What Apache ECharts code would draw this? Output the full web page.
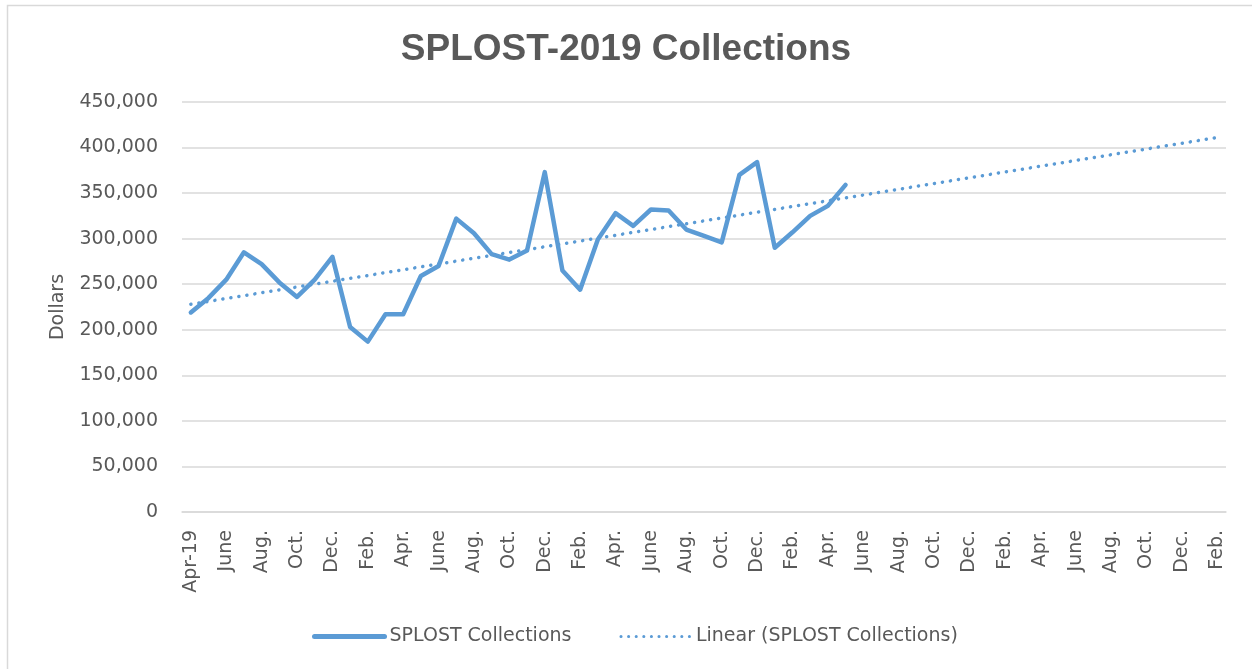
<!DOCTYPE html>
<html>
<head>
<meta charset="utf-8">
<script src="https://cdn.jsdelivr.net/npm/echarts@6/dist/echarts.min.js"></script>
<style>
html,body{margin:0;padding:0;background:#fff;}
#chart{width:1252px;height:669px;}
</style>
</head>
<body>
<div id="chart"></div>
<script>
// Monthly categories Apr-2019 .. Feb-2024
const categories = [
  "Apr-19","May","June","July","Aug.","Sept.","Oct.","Nov.","Dec.","Jan.","Feb.","Mar.",
  "Apr.","May","June","July","Aug.","Sept.","Oct.","Nov.","Dec.","Jan.","Feb.","Mar.",
  "Apr.","May","June","July","Aug.","Sept.","Oct.","Nov.","Dec.","Jan.","Feb.","Mar.",
  "Apr.","May","June","July","Aug.","Sept.","Oct.","Nov.","Dec.","Jan.","Feb.","Mar.",
  "Apr.","May","June","July","Aug.","Sept.","Oct.","Nov.","Dec.","Jan.","Feb."
];
// SPLOST Collections (Apr-2019 .. May-2022), dollars
const collections = [
  219000, 235000, 255000, 285000, 272000, 252000, 236000, 255000, 280000, 203000,
  187000, 217000, 217000, 259000, 270000, 322000, 306000, 283000, 277000, 287000,
  373000, 265000, 244000, 299000, 328000, 314000, 332000, 331000, 310000, 303000,
  296000, 370000, 384000, 290000, 307000, 325000, 336000, 359000
];
// Linear trendline end values (first and last category)
const trendStart = 228000;
const trendEnd = 411000;
const yTicks = { min: 0, max: 450000, interval: 50000 };

const trendData = categories.map(() => null);
trendData[0] = trendStart;
trendData[categories.length - 1] = trendEnd;

const textColor = '#595959';
const blue = '#5B9BD5';
const font = 'DejaVu Sans';

const chart = echarts.init(document.getElementById('chart'), null, {renderer: 'canvas'});
chart.setOption({
  backgroundColor: '#ffffff',
  animation: false,
  graphic: [{
    type: 'rect', silent: true, z: -1,
    shape: {x: 7.5, y: 5.5, width: 1300, height: 700},
    style: {fill: 'none', stroke: '#d9d9d9', lineWidth: 1.5}
  }],
  title: {
    text: 'SPLOST-2019 Collections',
    left: 'center',
    top: 26,
    textStyle: {fontFamily: 'Liberation Sans', fontWeight: 'bold', fontSize: 37, color: textColor}
  },
  legend: {
    left: 307,
    top: 622,
    itemWidth: 70,
    itemHeight: 10,
    itemGap: 48,
    textStyle: {fontFamily: font, fontSize: 19, color: textColor},
    data: [
      {name: 'SPLOST Collections',
       itemStyle: {opacity: 0},
       lineStyle: {width: 5, color: blue, cap: 'round'}},
      {name: 'Linear (SPLOST Collections)',
       itemStyle: {opacity: 0},
       lineStyle: {width: 3, color: blue, type: [0.1, 7.5], cap: 'round'}}
    ]
  },
  grid: {left: 182, right: 26, top: 102, bottom: 157, containLabel: false},
  xAxis: {
    type: 'category',
    data: categories,
    boundaryGap: true,
    axisLine: {show: true, lineStyle: {color: '#d9d9d9', width: 1.5}},
    axisTick: {show: false},
    axisLabel: {
      interval: 1,
      rotate: 90,
      margin: 18,
      fontFamily: font,
      fontSize: 19,
      color: textColor
    },
    splitLine: {show: false}
  },
  yAxis: {
    type: 'value',
    min: yTicks.min,
    max: yTicks.max,
    interval: yTicks.interval,
    name: 'Dollars',
    nameLocation: 'middle',
    nameGap: 114,
    nameTextStyle: {fontFamily: font, fontSize: 19, color: textColor},
    axisLine: {show: false},
    axisTick: {show: false},
    axisLabel: {
      margin: 24,
      fontFamily: font,
      fontSize: 19,
      color: textColor,
      formatter: v => v.toLocaleString('en-US')
    },
    splitLine: {lineStyle: {color: '#d9d9d9', width: 1.5}}
  },
  series: [
    {
      name: 'SPLOST Collections',
      type: 'line',
      data: collections,
      symbol: 'none',
      color: blue,
      lineStyle: {color: blue, width: 4.5, cap: 'round', join: 'round'},
      z: 3
    },
    {
      name: 'Linear (SPLOST Collections)',
      type: 'line',
      data: trendData,
      connectNulls: true,
      symbol: 'none',
      color: blue,
      lineStyle: {color: blue, width: 3.5, type: [0.1, 8], cap: 'round'},
      z: 2
    }
  ]
});
</script>
</body>
</html>
